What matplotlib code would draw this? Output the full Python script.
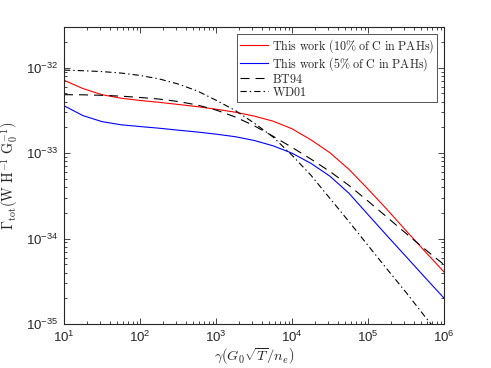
import numpy as np
import matplotlib
matplotlib.use("Agg")
import matplotlib.pyplot as plt

# x positions (gamma), quarter-decade samples from 10^1 to 10^6
gamma = [1.00e1, 1.78e1, 3.16e1, 5.62e1, 1.00e2, 1.78e2, 3.16e2, 5.62e2,
         1.00e3, 1.78e3, 3.16e3, 5.62e3, 1.00e4, 1.78e4, 3.16e4, 5.62e4,
         1.00e5, 1.78e5, 3.16e5, 5.62e5, 1.00e6]

this_work_10 = [7.14e-33, 5.70e-33, 4.84e-33, 4.40e-33, 4.14e-33, 3.94e-33, 3.72e-33,
                3.51e-33, 3.27e-33, 3.02e-33, 2.72e-33, 2.37e-33, 1.93e-33, 1.43e-33,
                1.01e-33, 6.46e-34, 3.80e-34, 2.19e-34, 1.24e-34, 7.08e-35, 4.07e-35]

this_work_5 = [3.59e-33, 2.75e-33, 2.34e-33, 2.15e-33, 2.05e-33, 1.96e-33, 1.86e-33,
               1.77e-33, 1.67e-33, 1.56e-33, 1.41e-33, 1.22e-33, 1.00e-33, 7.59e-34,
               5.37e-34, 3.39e-34, 1.91e-34, 1.08e-34, 6.17e-35, 3.51e-35, 2.01e-35]

bt94 = [4.84e-33, 4.82e-33, 4.76e-33, 4.65e-33, 4.49e-33, 4.30e-33, 4.03e-33,
        3.67e-33, 3.20e-33, 2.66e-33, 2.10e-33, 1.58e-33, 1.17e-33, 8.51e-34,
        6.10e-34, 4.19e-34, 2.75e-34, 1.78e-34, 1.15e-34, 7.50e-35, 4.95e-35]

wd01 = [9.38e-33, 9.23e-33, 9.02e-33, 8.67e-33, 8.13e-33, 7.41e-33, 6.46e-33,
        5.37e-33, 4.17e-33, 3.17e-33, 2.26e-33, 1.55e-33, 9.46e-34, 5.50e-34,
        2.95e-34, 1.58e-34, 8.32e-35, 4.39e-35, 2.35e-35, 1.22e-35, 6.55e-36]

labels = [r'$\mathrm{This\ work\ (10\%\ of\ C\ in\ PAHs)}$',
          r'$\mathrm{This\ work\ (5\%\ of\ C\ in\ PAHs)}$',
          r'$\mathrm{BT94}$',
          r'$\mathrm{WD01}$']

plt.rcParams['lines.scale_dashes'] = False
plt.rcParams['font.family'] = ['Liberation Sans', 'DejaVu Sans']
plt.rcParams['mathtext.fontset'] = 'custom'
plt.rcParams['mathtext.rm'] = 'Liberation Sans'
plt.rcParams['mathtext.it'] = 'Liberation Sans:italic'
plt.rcParams['mathtext.bf'] = 'Liberation Sans:bold'

axcol = '#262626'
fig = plt.figure(figsize=(4.91, 3.68), dpi=100)
ax = fig.add_axes([64/491, 44/368, 380/491, 297/368])

lw = 0.8
ax.plot(gamma, this_work_10, color='#ff0000', lw=lw, label=labels[0])
ax.plot(gamma, this_work_5, color='#0000ff', lw=lw, label=labels[1])
ax.plot(gamma, bt94, color='black', lw=lw, ls=(0, (6.5, 4.3)), label=labels[2])
ax.plot(gamma, wd01, color='black', lw=lw, ls=(0, (4.5, 2.2, 1.0, 2.2)), label=labels[3])

ax.set_xscale('log')
ax.set_yscale('log')
ax.set_xlim(1e1, 1e6)
ax.set_ylim(1e-35, 3e-32)
ax.set_yticks([1e-35, 1e-34, 1e-33, 1e-32])
ax.set_xticks([1e1, 1e2, 1e3, 1e4, 1e5, 1e6])

ax.tick_params(which='both', direction='in', top=True, right=True,
               color=axcol, labelcolor=axcol, labelsize=9.5, width=0.6)
ax.tick_params(which='major', length=4.5, pad=4)
ax.tick_params(which='minor', length=2.5)
for s in ax.spines.values():
    s.set_color(axcol)
    s.set_linewidth(0.8)

ax.set_xlabel(r'$\gamma(G_0\sqrt{T}/n_e)$', fontsize=10.3, math_fontfamily='cm',
              color=axcol)
ax.xaxis.set_label_coords(0.5, -0.073)
ax.set_ylabel(r'$\Gamma_{\mathrm{tot}}(\mathrm{W\ H^{-1}\ G_0^{-1}})$', fontsize=10.3,
              math_fontfamily='cm', color=axcol, labelpad=4)

leg = ax.legend(loc='upper right', bbox_to_anchor=(0.982, 0.976), borderaxespad=0,
                fontsize=8.7, frameon=True, fancybox=False, handlelength=2.3,
                handletextpad=0.3, labelspacing=0.0, borderpad=0.25)
leg.get_frame().set_edgecolor(axcol)
leg.get_frame().set_linewidth(0.7)
for t in leg.get_texts():
    t.set_math_fontfamily('cm')
    t.set_color(axcol)

fig.savefig('out.png', dpi=100)
